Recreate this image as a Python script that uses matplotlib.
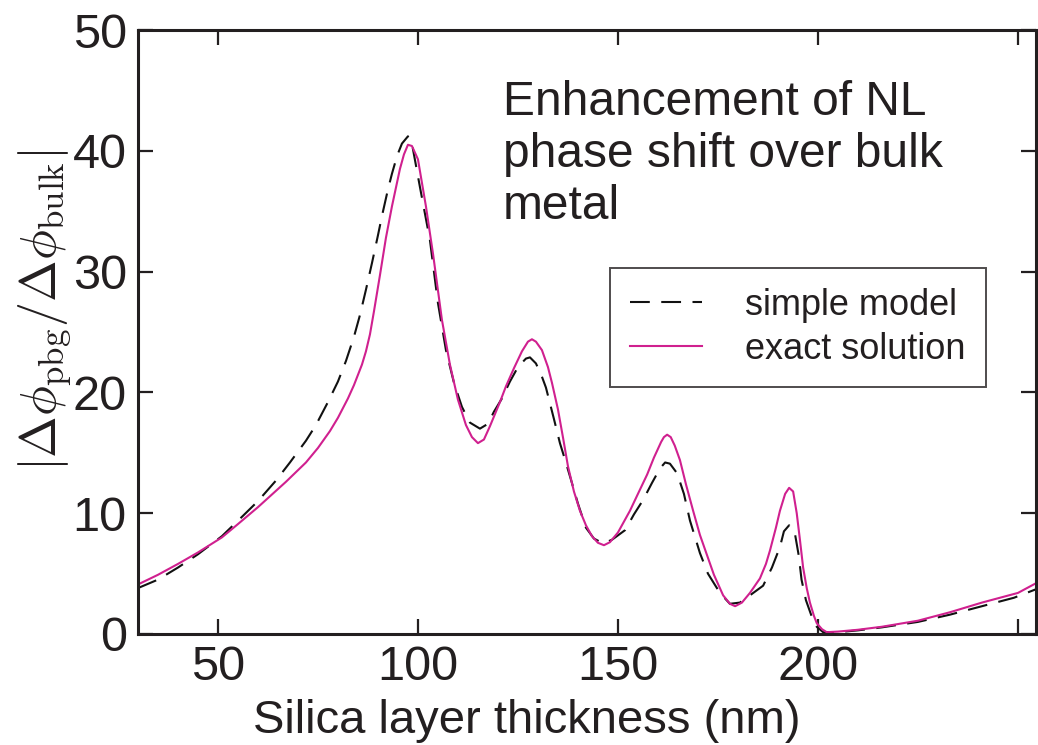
import matplotlib
matplotlib.use("Agg")
import matplotlib.pyplot as plt

# exact solution (magenta, solid)
exact_x = [30, 35, 40, 45, 51, 55, 60, 63, 67, 72, 75, 78, 80, 82.5, 84, 86, 87, 88,
           89, 90.5, 92, 93.5, 95.5, 96.5, 97.5, 98.5, 100, 102, 103.8, 106, 108,
           110, 112, 113.5, 115, 116.5, 118, 120.5, 122, 124, 126, 127.5, 128.5,
           129.5, 131, 132.5, 133.5, 135, 136.3, 137.5, 139, 140.5, 142, 143.5, 145,
           146.5, 148, 150, 153, 155, 157.3, 159, 160.8, 161.5, 162.3, 163.2, 164.2,
           165.5, 167, 168.8, 170.5, 172.3, 174, 176.3, 178, 179.3, 181, 183, 185.5,
           187, 188, 189.5, 190.5, 191.8, 192.8, 193.8, 194.7, 195.5, 196.3, 197.2,
           198, 199, 199.7, 201, 202.2, 205, 210, 216, 225, 233, 241, 250, 254.5]
exact_y = [4.1, 4.9, 5.8, 6.75, 8.0, 9.1, 10.5, 11.4, 12.6, 14.2, 15.4, 16.8, 17.9,
           19.5, 20.6, 22.3, 23.4, 24.8, 26.7, 29.7, 32.8, 35.4, 38.5, 39.7, 40.5,
           40.4, 39.3, 35.4, 31.4, 26.0, 22.3, 19.4, 17.3, 16.3, 15.8, 16.1, 17.2,
           19.2, 20.5, 22.0, 23.4, 24.2, 24.4, 24.2, 23.5, 22.1, 20.8, 18.6, 16.2,
           13.9, 11.8, 10.2, 9.0, 8.1, 7.55, 7.35, 7.6, 8.4, 10.2, 11.6, 13.2, 14.6,
           15.9, 16.3, 16.5, 16.3, 15.6, 14.4, 12.4, 10.2, 8.2, 6.5, 4.9, 3.2, 2.5,
           2.3, 2.6, 3.4, 4.6, 5.8, 6.9, 8.8, 10.2, 11.6, 12.1, 11.8, 10.0, 7.8, 5.5,
           3.8, 2.6, 1.5, 0.9, 0.4, 0.15, 0.2, 0.35, 0.6, 1.1, 1.8, 2.6, 3.4, 4.2]

# simple model (black, dashed)
simple_x = [30, 35, 40, 45, 51, 56, 60, 64.5, 68, 72, 74.5, 77.5, 80, 82, 84, 85.5,
            87, 88.5, 90, 91, 92.5, 93.5, 94.8, 96, 97.5, 98.5, 100.5, 103, 105, 107,
            109, 111, 113, 115.5, 117.5, 119, 121, 123, 125, 127, 128, 129.5, 131,
            132, 134, 135.5, 136.8, 138.5, 140, 142, 144, 146.3, 148.5, 151.8, 154,
            156.3, 158.5, 160.5, 161.8, 163, 164.8, 166.5, 168, 170.5, 172.5, 175.5,
            178, 180.5, 183, 186.3, 188.5, 190.5, 191.5, 192.8, 194.2, 195.2, 195.9,
            197, 198.5, 199.7, 201.3, 205, 210, 216, 225, 233, 241, 249, 254.5]
simple_y = [3.8, 4.5, 5.5, 6.6, 8.1, 9.7, 11.0, 12.7, 14.2, 16.0, 17.3, 19.2, 20.9,
            22.6, 24.6, 26.4, 28.5, 30.7, 33.0, 34.6, 36.8, 38.1, 39.6, 40.6, 41.2,
            40.6, 37.0, 32.6, 27.4, 23.5, 20.8, 18.8, 17.5, 17.0, 17.4, 18.4, 19.5,
            20.9, 22.1, 22.8, 22.9, 22.4, 21.3, 20.4, 17.8, 15.8, 14.4, 12.5, 10.8,
            8.8, 7.9, 7.5, 7.8, 8.6, 9.9, 11.1, 12.5, 13.7, 14.2, 14.1, 13.3, 11.6,
            9.4, 6.7, 5.0, 3.4, 2.5, 2.6, 3.2, 4.0, 5.5, 7.2, 8.5, 9.0, 8.4, 6.5,
            4.5, 2.8, 1.4, 0.6, 0.15, 0.15, 0.3, 0.55, 1.0, 1.6, 2.3, 3.0, 3.7]

x_ticks = [50, 100, 150, 200, 250]
x_tick_labels = ["50", "100", "150", "200", ""]
y_ticks = [0, 10, 20, 30, 40, 50]

ink = "#231f20"
plt.rcParams["font.family"] = ["Liberation Sans", "DejaVu Sans"]
plt.rcParams["mathtext.fontset"] = "cm"

fig = plt.figure(figsize=(10.38, 7.45), dpi=100)
ax = fig.add_axes([0.1329, 0.149, 0.998 - 0.1329, 0.9597 - 0.149])

ax.plot(simple_x, simple_y, color="#111111", lw=1.5, dashes=(9.5, 5.5),
        label="simple model")
ax.plot(exact_x, exact_y, color="#d0208f", lw=1.5, label="exact solution")

ax.set_xlim(30, 254.5)
ax.set_ylim(0, 50)
ax.set_xticks(x_ticks)
ax.set_xticklabels(x_tick_labels)
ax.set_yticks(y_ticks)
ax.tick_params(direction="in", length=11, width=1.6, top=True, right=True,
               colors=ink, labelsize=35, pad=8)
for s in ax.spines.values():
    s.set_linewidth(2.2)
    s.set_color(ink)

ax.set_xlabel("Silica layer thickness (nm)", fontsize=34, color=ink)
ax.xaxis.set_label_coords(0.433, -0.108)
ax.set_ylabel(r"$|\Delta\phi_{\mathrm{pbg}}/\Delta\phi_{\mathrm{bulk}}|$",
              fontsize=36, color=ink)
ax.yaxis.set_label_coords(-0.072, 0.536)

ax.text(0.406, 0.917, "Enhancement of NL\nphase shift over bulk\nmetal",
        transform=ax.transAxes, fontsize=34.5, color=ink, va="top", ha="left",
        linespacing=1.2)

leg = ax.legend(loc="upper left", bbox_to_anchor=(0.5256, 0.606), fontsize=26,
                frameon=True, fancybox=False, edgecolor=ink, handlelength=2.0,
                handletextpad=1.2, borderpad=0.55, labelspacing=0.25,
                borderaxespad=0)
leg.get_frame().set_linewidth(1.4)
for t in leg.get_texts():
    t.set_color(ink)

fig.savefig("out.png", dpi=100)
